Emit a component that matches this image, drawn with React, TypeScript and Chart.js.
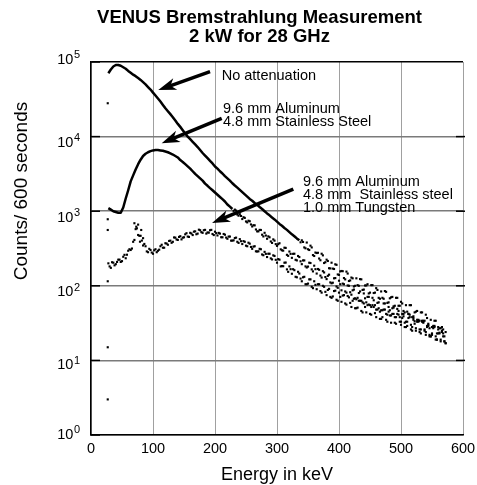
import React, { useEffect, useRef } from "react";
import { Chart, registerables } from "chart.js";

Chart.register(...registerables);

// ---------- data ----------
// channel energies, grid A
const energyKeV = [
  28, 32, 36, 40, 44, 48, 52, 56, 60, 64,
  68, 72, 76, 80, 84, 88, 92, 96, 100, 104,
  108, 112, 116, 120, 124, 128, 132, 136, 140, 144,
  148, 152, 156, 160, 164, 168, 172, 176, 180, 184,
  188, 192, 196, 200, 204, 208, 212, 216, 220, 224,
  228, 232, 236, 240, 244, 248, 252, 256, 260, 264,
  268, 272, 276, 280, 284, 288, 292, 296, 300, 304,
  308, 312, 316, 320, 324, 328, 332, 336, 340, 344,
  348, 352, 356, 360, 364, 368, 372, 376, 380, 384,
  388, 392, 396, 400, 404, 408, 412, 416, 420, 424,
  428, 432, 436, 440, 444, 448, 452, 456, 460, 464,
  468, 472, 476, 480, 484, 488, 492, 496, 500, 504,
  508, 512, 516, 520, 524, 528, 532, 536, 540, 544,
  548, 552, 556, 560, 564, 568, 572,
];

const noAttenuation = [
  70800, 79400, 87100, 91200, 91200, 89100, 85100, 81300, 75900, 71600,
  67600, 64600, 61000, 57500, 53700, 50100, 46200, 42700, 38900, 35500,
  32400, 29500, 26600, 24000, 21900, 20000, 18200, 16400, 14800, 13500,
  12200, 11000, 10000, 9230, 8510, 7850, 7240, 6610, 6030, 5560,
  5130, 4730, 4370, 3980, 3720, 3430, 3200, 2950, 2750, 2570,
  2370, 2210, 2070, 1930, 1800, 1680, 1570, 1460, 1380, 1290,
  1220, 1140, 1070, 1000, 933, 881, 822, 776, 724, 676,
  638, 596, 562, 525, 490, 462, 432, 407, 407, 327,
  380, 302, 327, 251, 275, 232, 269, 202, 224, 172,
  204, 168, 191, 140, 158, 127, 155, 116, 129, 98,
  126, 100, 122, 89, 101, 79, 102, 80, 93, 69,
  84, 67, 83, 60, 70, 53, 69, 54, 61, 46,
  55, 42, 55, 39, 45, 33, 44, 33, 41, 29,
  35, 27, 34, 23, 27, 21, 24,
];

const aluminumSteel = [
  1100, 1050, 1000, 977, 955, 955, 1120, 1480, 1910, 2510,
  3020, 3630, 4270, 4900, 5500, 5890, 6170, 6380, 6530, 6610,
  6610, 6530, 6460, 6310, 6170, 5960, 5750, 5500, 5250, 4840,
  4570, 4270, 3980, 3720, 3430, 3160, 2950, 2750, 2570, 2340,
  2190, 2040, 1910, 1780, 1660, 1550, 1450, 1350, 1230, 1150,
  1070, 1050, 902, 912, 785, 813, 708, 733, 624, 646,
  537, 562, 484, 513, 427, 447, 376, 403, 343, 372,
  299, 324, 260, 288, 237, 269, 219, 243, 195, 219,
  176, 204, 166, 186, 146, 164, 129, 151, 123, 141,
  108, 126, 98, 117, 87, 105, 81, 100, 76, 89,
  66, 80, 63, 79, 60, 71, 52, 64, 48, 60,
  47, 58, 42, 52, 40, 51, 38, 46, 33, 42,
  33, 42, 30, 37, 27, 35, 26, 34, 24, 30,
  21, 28, 21, 26, 18, 23, 17,
];

const aluminumSteelTungsten = [
  200, 174, 204, 195, 224, 209, 245, 234, 295, 302,
  389, 575, 661, 468, 347, 339, 282, 302, 269, 309,
  295, 339, 324, 372, 355, 403, 389, 442, 412, 462,
  442, 490, 457, 513, 479, 537, 501, 556, 513, 562,
  519, 556, 495, 531, 473, 501, 447, 484, 427, 457,
  403, 437, 389, 422, 363, 389, 339, 367, 313, 339,
  288, 313, 263, 285, 243, 269, 226, 251, 204, 224,
  184, 204, 166, 182, 145, 162, 130, 146, 115, 132,
  105, 122, 97, 115, 90, 105, 81, 97, 75, 91,
  69, 85, 65, 81, 61, 75, 56, 70, 52, 67,
  50, 63, 46, 58, 44, 56, 41, 52, 38, 50,
  36, 48, 35, 45, 32, 42, 31, 41, 30, 39,
  28, 37, 26, 35, 25, 34, 23, 32, 22, 31,
  21, 29, 19, 28, 19, 26, 17,
];

// channel energies, grid B (in-between channels, only read where the spectra are scattered)
const energyKeVB = [
  30, 34, 38, 42, 46, 50, 54, 58, 62, 66,
  70, 74, 78, 82, 86, 90, 94, 98, 102, 106,
  110, 114, 118, 122, 126, 130, 134, 138, 142, 146,
  150, 154, 158, 162, 166, 170, 174, 178, 182, 186,
  190, 194, 198, 202, 206, 210, 214, 218, 222, 226,
  230, 234, 238, 242, 246, 250, 254, 258, 262, 266,
  270, 274, 278, 282, 286, 290, 294, 298, 302, 306,
  310, 314, 318, 322, 326, 330, 334, 338, 342, 346,
  350, 354, 358, 362, 366, 370, 374, 378, 382, 386,
  390, 394, 398, 402, 406, 410, 414, 418, 422, 426,
  430, 434, 438, 442, 446, 450, 454, 458, 462, 466,
  470, 474, 478, 482, 486, 490, 494, 498, 502, 506,
  510, 514, 518, 522, 526, 530, 534, 538, 542, 546,
  550, 554, 558, 562, 566, 570,
];

const noAttenuationB = [
  null, null, null, null, null, null, null, null, null, null,
  null, null, null, null, null, null, null, null, null, null,
  null, null, null, null, null, null, null, null, null, null,
  null, null, null, null, null, null, null, null, null, null,
  null, null, null, null, null, null, null, null, null, null,
  null, null, null, null, null, null, null, null, null, null,
  null, null, null, null, null, null, null, null, null, null,
  null, null, null, null, null, null, null, 383, 387, 318,
  309, 345, 258, 279, 277, 220, 256, 207, 215, 171,
  170, 194, 142, 156, 157, 122, 146, 118, 126, 100,
  102, 123, 88, 101, 105, 81, 102, 81, 88, 67,
  69, 85, 59, 68, 71, 54, 69, 54, 58, 44,
  45, 55, 38, 44, 46, 34, 44, 34, 37, 27,
  28, 34, 23, 27, 28, 21,
];

const aluminumSteelB = [
  null, null, null, null, null, null, null, null, null, null,
  null, null, null, null, null, null, null, null, null, null,
  null, null, null, null, null, null, null, null, null, null,
  null, null, null, null, null, null, null, null, null, null,
  null, null, null, null, null, null, null, null, null, null,
  1010, 1020, 871, 863, 830, 728, 745, 664, 649, 569,
  537, 560, 459, 472, 460, 393, 419, 362, 361, 308,
  296, 322, 252, 268, 268, 223, 251, 213, 219, 182,
  181, 202, 156, 167, 168, 137, 157, 131, 136, 111,
  110, 127, 94, 105, 107, 84, 101, 82, 87, 68,
  69, 84, 60, 68, 71, 55, 69, 55, 59, 45,
  47, 58, 41, 47, 50, 38, 49, 38, 42, 32,
  33, 41, 28, 33.5, 35, 26, 34, 26, 29, 22,
  23, 28, 19, 23, 24, 18,
];

const aluminumSteelTungstenB = [
  182, 207, 188, 209, 224, 214, 260, 261, 309, 316,
  412, 589, 468, 404, 364, 289, 313, 279, 299, 282,
  305, 355, 324, 368, 399, 377, 445, 418, 452, 419,
  447, 507, 452, 502, 532, 491, 565, 524, 556, 501,
  516, 562, 479, 508, 512, 448, 495, 443, 457, 403,
  407, 442, 376, 396, 397, 345, 378, 332, 335, 290,
  290, 309, 257, 268, 269, 233, 256, 223, 228, 182,
  183, 205, 154, 167, 167, 132, 154, 125, 130, 105,
  107, 122, 93, 103, 105, 85, 100, 83, 88, 71,
  72, 86, 63, 71, 74, 58, 73, 59, 63, 50,
  51, 63, 44, 52, 55, 42, 55, 43, 48, 36,
  38, 48, 33, 40, 42, 32, 42, 33, 37, 28,
  29, 38, 25, 31, 33, 24, 33, 25, 28, 21,
  22, 29, 19, 23.5, 25, 18,
];

// isolated first-channel dots and the spike in the tungsten spectrum
const firstChannelKeV = [27, 27, 27, 27, 27, 27];
const firstChannelCounts = [28000, 780, 560, 115, 15, 3];
const spikeKeV = [70, 73, 76, 79, 81, 84];
const spikeCounts = [690, 620, 480, 390, 560, 435];

const xTickValues = [0, 100, 200, 300, 400, 500, 600];
const yDecades = [1, 10, 100, 1000, 10000, 100000];

const titleLines = ["VENUS Bremstrahlung Measurement", "2 kW for 28 GHz"];
const xAxisTitle = "Energy in keV";
const yAxisTitle = "Counts/ 600 seconds";

// annotation texts, anchored in data units (keV, counts)
const annotationTexts = [
  ["No attenuation"],
  ["9.6 mm Aluminum", "4.8 mm Stainless Steel"],
  ["9.6 mm Aluminum", "4.8 mm  Stainless steel", "1.0 mm Tungsten"],
];
const annotationTextKeV = [210.8, 212.9, 341.9];
const annotationTextCounts = [57400, 20500, 2210];
const arrowTailKeV = [192, 210.8, 326.3];
const arrowTailCounts = [74100, 17600, 1970];
const arrowTipKeV = [108.5, 114, 195.2];
const arrowTipCounts = [42170, 8130, 695];

// ---------- helpers ----------
const FONT = '"Liberation Sans", Arial, Helvetica, sans-serif';

type P = { x: number; y: number };

function splitSeries(values: number[], extra: (number | null)[], lineUntil: number) {
  const line: P[] = [];
  const dots: P[] = [];
  values.forEach((v, i) => {
    const p = { x: energyKeV[i], y: v };
    if (energyKeV[i] <= lineUntil) line.push(p);
    else dots.push(p);
  });
  extra.forEach((v, i) => {
    if (v !== null && energyKeVB[i] > lineUntil) dots.push({ x: energyKeVB[i], y: v });
  });
  return { line, dots };
}

function drawArrow(ctx: CanvasRenderingContext2D, x1: number, y1: number, x2: number, y2: number) {
  const ang = Math.atan2(y2 - y1, x2 - x1);
  const headLen = 18;
  const headW = 6;
  ctx.save();
  ctx.lineWidth = 3.5;
  ctx.lineCap = "butt";
  ctx.beginPath();
  ctx.moveTo(x1, y1);
  ctx.lineTo(x2 - Math.cos(ang) * headLen * 0.7, y2 - Math.sin(ang) * headLen * 0.7);
  ctx.stroke();
  ctx.translate(x2, y2);
  ctx.rotate(ang);
  ctx.beginPath();
  ctx.moveTo(0, 0);
  ctx.lineTo(-headLen, -headW);
  ctx.lineTo(-headLen * 0.72, 0);
  ctx.lineTo(-headLen, headW);
  ctx.closePath();
  ctx.fill();
  ctx.restore();
}

const overlayPlugin = {
  id: "overlay",
  afterDraw(chart: any) {
    const { ctx, chartArea } = chart;
    const xs = chart.scales.x;
    const ys = chart.scales.y;
    ctx.save();
    ctx.fillStyle = "#000";
    ctx.strokeStyle = "#000";

    // inner decade ticks on left and right
    ctx.lineWidth = 1.5;
    yDecades.forEach((v) => {
      const py = ys.getPixelForValue(v);
      ctx.beginPath();
      ctx.moveTo(chartArea.left, py);
      ctx.lineTo(chartArea.left + 9, py);
      ctx.stroke();
      if (v > 1 && v < 100000) {
        ctx.beginPath();
        ctx.moveTo(chartArea.right - 7, py);
        ctx.lineTo(chartArea.right + 2, py);
        ctx.stroke();
      }
    });

    // title
    ctx.textAlign = "center";
    ctx.textBaseline = "alphabetic";
    ctx.font = `bold 18.5px ${FONT}`;
    ctx.fillText(titleLines[0], 259.5, 22.7);
    ctx.fillText(titleLines[1], 259.5, 41.7);

    // x tick labels
    ctx.font = `14.5px ${FONT}`;
    xTickValues.forEach((v) => {
      ctx.fillText(String(v), xs.getPixelForValue(v), chartArea.bottom + 18);
    });

    // x axis title
    ctx.font = `18px ${FONT}`;
    ctx.fillText(xAxisTitle, (chartArea.left + chartArea.right) / 2, chartArea.bottom + 45);

    // y tick labels 10^n
    const baseOff = [3.5, 9, 10.5, 10.5, 10.3, 1.5];
    yDecades.forEach((v, e) => {
      const py = ys.getPixelForValue(v);
      const base = py + baseOff[e];
      ctx.font = `11px ${FONT}`;
      const sup = String(e);
      const supW = ctx.measureText(sup).width;
      ctx.textAlign = "left";
      ctx.fillText(sup, chartArea.left - 11 - supW, base - 5.8);
      ctx.font = `14.5px ${FONT}`;
      ctx.textAlign = "right";
      ctx.fillText("10", chartArea.left - 11 - supW - 0.5, base);
    });

    // y axis title
    ctx.save();
    ctx.translate(27, 191);
    ctx.rotate(-Math.PI / 2);
    ctx.textAlign = "center";
    ctx.font = `19px ${FONT}`;
    ctx.fillText(yAxisTitle, 0, 0);
    ctx.restore();

    // annotations
    ctx.font = `14.5px ${FONT}`;
    ctx.textAlign = "left";
    annotationTexts.forEach((lines, i) => {
      const tx = xs.getPixelForValue(annotationTextKeV[i]);
      const ty = ys.getPixelForValue(annotationTextCounts[i]);
      lines.forEach((ln, j) => ctx.fillText(ln, tx, ty + j * 13));
      drawArrow(
        ctx,
        xs.getPixelForValue(arrowTailKeV[i]),
        ys.getPixelForValue(arrowTailCounts[i]),
        xs.getPixelForValue(arrowTipKeV[i]),
        ys.getPixelForValue(arrowTipCounts[i])
      );
    });

    ctx.restore();
  },
};

export default function App() {
  const canvasRef = useRef<HTMLCanvasElement | null>(null);

  useEffect(() => {
    if (!canvasRef.current) return;
    const s1 = splitSeries(noAttenuation, noAttenuationB, 336);
    const s2 = splitSeries(aluminumSteel, aluminumSteelB, 228);
    const s3 = splitSeries(aluminumSteelTungsten, aluminumSteelTungstenB, 0);
    const dotStyle = {
      showLine: false,
      pointStyle: "rect",
      pointRadius: 1.5,
      pointBorderWidth: 0,
      backgroundColor: "#000",
      borderColor: "#000",
    };
    const lineStyle = {
      showLine: true,
      borderColor: "#000",
      borderWidth: 2.5,
      pointRadius: 0,
      borderJoinStyle: "round",
    };
    const first = firstChannelKeV.map((x, i) => ({ x, y: firstChannelCounts[i] }));
    const spike = spikeKeV.map((x, i) => ({ x, y: spikeCounts[i] }));

    const chart = new Chart(canvasRef.current, {
      type: "scatter",
      data: {
        datasets: [
          { label: "No attenuation", data: s1.line, ...lineStyle },
          { label: "No attenuation (dots)", data: s1.dots, ...dotStyle },
          { label: "Al + SS", data: s2.line, ...lineStyle },
          { label: "Al + SS (dots)", data: s2.dots, ...dotStyle },
          { label: "Al + SS + W", data: s3.dots, ...dotStyle },
          { label: "spike", data: spike, ...dotStyle },
          { label: "first channel", data: first, ...dotStyle },
        ] as any,
      },
      options: {
        responsive: false,
        animation: false,
        devicePixelRatio: 1,
        layout: { padding: { top: 62, right: 14, bottom: 0, left: 0 } },
        plugins: {
          legend: { display: false },
          title: { display: false },
          tooltip: { enabled: false },
        },
        scales: {
          x: {
            type: "linear",
            min: 0,
            max: 600,
            ticks: { display: false, stepSize: 100 },
            grid: { color: "#a0a0a0", lineWidth: 1, drawTicks: false },
            border: { display: true, color: "#000", width: 1.5 },
            afterFit: (s: any) => {
              s.height = 50;
            },
          },
          y: {
            type: "logarithmic",
            min: 1,
            max: 100000,
            ticks: { display: false },
            afterBuildTicks: (s: any) => {
              s.ticks = yDecades.map((v) => ({ value: v }));
            },
            grid: {
              color: (c: any) => (c.tick && c.tick.value === 100000 ? "#000" : "#7a7a7a"),
              lineWidth: 1.5,
              drawTicks: false,
            },
            border: { display: true, color: "#000", width: 1.5 },
            afterFit: (s: any) => {
              s.width = 91;
            },
          },
        },
      } as any,
      plugins: [overlayPlugin],
    });
    return () => chart.destroy();
  }, []);

  return (
    <div
      style={{
        position: "absolute",
        left: 0,
        top: 0,
        width: 477,
        height: 485,
        background: "#fff",
      }}
    >
      <canvas ref={canvasRef} width={477} height={485} style={{ width: 477, height: 485, display: "block" }} />
    </div>
  );
}
